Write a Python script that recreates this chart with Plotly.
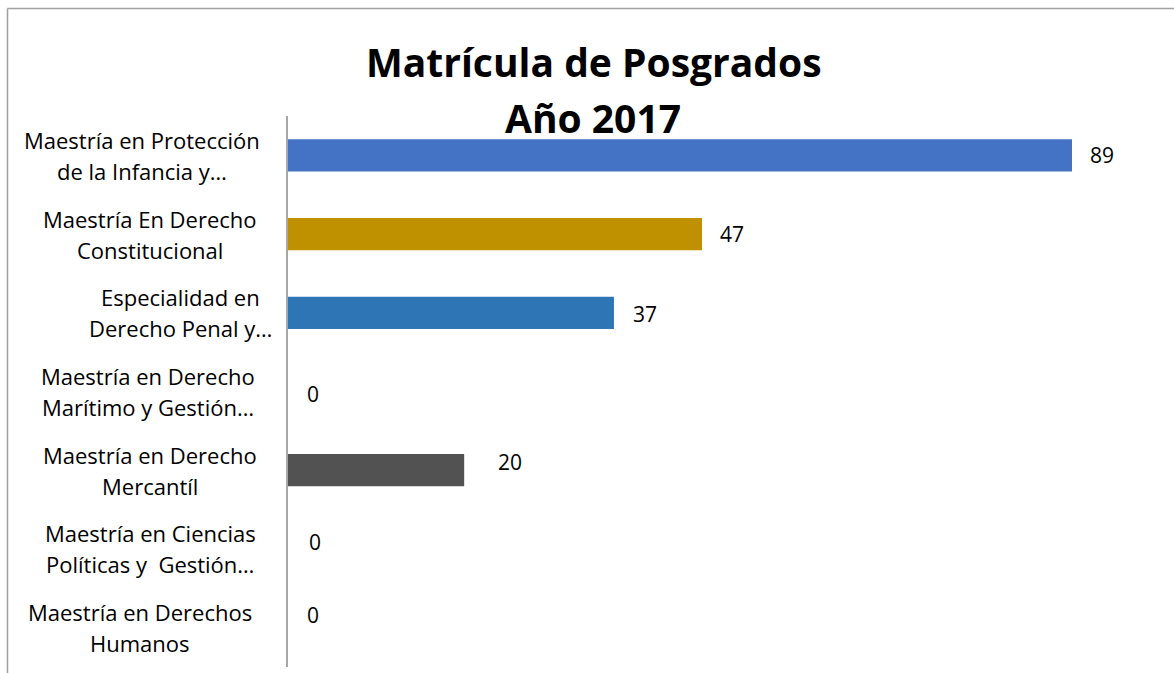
import plotly.graph_objects as go

# datos
programas = [
    ["Maestría en Protección", "de la Infancia y…"],
    ["Maestría En Derecho", "Constitucional"],
    ["Especialidad en", "Derecho Penal y…"],
    ["Maestría en Derecho", "Marítimo y Gestión…"],
    ["Maestría en Derecho", "Mercantíl"],
    ["Maestría en Ciencias", "Políticas y  Gestión…"],
    ["Maestría en Derechos", "Humanos"],
]
matricula = [89, 47, 37, 0, 20, 0, 0]
titulo = ["Matrícula de Posgrados", "Año 2017"]

colores = ["#4472C4", "#BF9000", "#2E75B6", "#A5A5A5", "#525252", "#70AD47", "#264478"]

# estilo / posiciones en pixeles
W, H = 1174, 673
L, R, T, B = 288, 24, 116, 6
FONT = "Open Sans"
label_cx = [142, 150, 180, 148, 150, 150, 140]
val_dx = [16, 16, 17, 17, 32, 19, 17]
val_dy = [0, 0, -1, -2, 8, 7, 13]
xmax = (W - L - R) / ((1072 - L) / 89)


def px_x(px):
    return (px - L) / (W - L - R)


def px_y(py):
    return (H - B - py) / (H - T - B)


cats = ["<br>".join(p) for p in programas]

fig = go.Figure(go.Bar(
    x=matricula, y=cats, orientation="h",
    marker=dict(color=colores, line=dict(width=0)),
    width=0.41, hoverinfo="x+y",
))

anns = []
for i, (p, c) in enumerate(zip(programas, cats)):
    for j, line in enumerate(p):
        anns.append(dict(
            text=line, xref="paper", x=px_x(label_cx[i]), xanchor="center",
            yref="y", y=c, yanchor="middle", yshift=15.5 if j == 0 else -15.5,
            showarrow=False, font=dict(family=FONT, size=22, color="#000000"),
        ))
    anns.append(dict(
        text=str(matricula[i]), xref="x", x=matricula[i], xanchor="left",
        xshift=val_dx[i], yref="y", y=c, yanchor="middle", yshift=val_dy[i],
        showarrow=False, font=dict(family=FONT, size=21, color="#000000"),
    ))

anns.append(dict(text="<b>%s</b>" % titulo[0], xref="paper", x=px_x(594), xanchor="center",
                 yref="paper", y=px_y(62), yanchor="middle", showarrow=False,
                 font=dict(family=FONT, size=39, color="#000000")))
anns.append(dict(text="<b>%s</b>" % titulo[1], xref="paper", x=px_x(593), xanchor="center",
                 yref="paper", y=px_y(117), yanchor="middle", showarrow=False,
                 font=dict(family=FONT, size=39, color="#000000")))

# marco del grafico (solo arriba e izquierda visibles)
shapes = [
    dict(type="line", xref="paper", yref="paper", x0=px_x(7.5), x1=px_x(W + 5),
         y0=px_y(8.5), y1=px_y(8.5), line=dict(color="#A0A0A0", width=1.5)),
    dict(type="line", xref="paper", yref="paper", x0=px_x(7.5), x1=px_x(7.5),
         y0=px_y(8.5), y1=px_y(H + 5), line=dict(color="#A0A0A0", width=1.5)),
]

fig.update_layout(
    width=W, height=H,
    margin=dict(l=L, r=R, t=T, b=B),
    paper_bgcolor="white", plot_bgcolor="white",
    showlegend=False,
    annotations=anns, shapes=shapes,
    xaxis=dict(range=[0, xmax], visible=False, fixedrange=True),
    yaxis=dict(autorange="reversed", showticklabels=False, ticks="",
               showline=True, linecolor="#A6A6A6", linewidth=1.5,
               showgrid=False, zeroline=False, fixedrange=True),
    font=dict(family=FONT),
)

fig.write_html("out.html", config={"displayModeBar": False},
               post_script="document.body.style.margin='0';")
